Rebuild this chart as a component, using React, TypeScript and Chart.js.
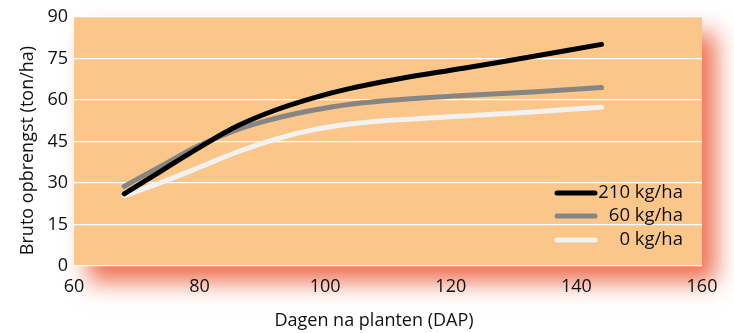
import React, { useEffect, useRef } from "react";
import { Chart, registerables } from "chart.js";

Chart.register(...registerables);

// Days after planting
const days = [68, 74, 80, 86, 92, 98, 104, 112, 122, 133, 144];
// Gross yield (ton/ha) per nitrogen level
const yield210 = [26.1, 34.5, 42.9, 50.6, 56.3, 60.7, 64.2, 67.8, 71.5, 75.7, 80.1];
const yield60 = [28.8, 36.3, 43.6, 49.3, 53.3, 56.3, 58.5, 60.2, 61.6, 62.9, 64.5];
const yield0 = [25.4, 30.3, 35.7, 41.2, 45.8, 49.2, 51.3, 52.9, 54.2, 55.7, 57.4];
const seriesLabels = ["210 kg/ha", "60 kg/ha", "0 kg/ha"];
const seriesColors = ["#000000", "#858585", "#f2f2f2"];
const xTitle = "Dagen na planten (DAP)";
const yTitle = "Bruto opbrengst (ton/ha)";

const FONT = "'Open Sans', sans-serif";

// Peach plot panel with a salmon drop shadow behind it
const panelPlugin = {
  id: "panel",
  beforeDraw(chart: any) {
    const { ctx, chartArea: a } = chart;
    ctx.save();
    ctx.shadowColor = "rgba(238, 105, 75, 0.95)";
    ctx.shadowBlur = 22;
    ctx.shadowOffsetX = 14;
    ctx.shadowOffsetY = 16;
    ctx.fillStyle = "#fbc68a";
    ctx.fillRect(a.left, a.top, a.right - a.left, a.bottom - a.top);
    ctx.restore();
    ctx.fillStyle = "#fbc68a";
    ctx.fillRect(a.left, a.top, a.right - a.left, a.bottom - a.top);
  },
};

// Axis titles, placed relative to the plot area
const titlesPlugin = {
  id: "axisTitles",
  afterDraw(chart: any) {
    const { ctx, chartArea: a } = chart;
    ctx.save();
    ctx.fillStyle = "#111";
    ctx.textAlign = "center";
    ctx.textBaseline = "middle";
    ctx.font = `18px ${FONT}`;
    ctx.fillText(xTitle, (a.left + a.right) / 2 - 14, a.bottom + 55);
    ctx.translate(a.left - 46, (a.top + a.bottom) / 2 + 9);
    ctx.rotate(-Math.PI / 2);
    ctx.fillText(yTitle, 0, 0);
    ctx.restore();
  },
};

// Legend inside the panel: line swatch, then right-aligned label
const legendPlugin = {
  id: "insideLegend",
  afterDraw(chart: any) {
    const { ctx, chartArea: a } = chart;
    const rowY = [a.bottom - 73, a.bottom - 50, a.bottom - 26];
    const swLeft = a.right - 145;
    const swRight = a.right - 107;
    const textRight = a.right - 19;
    ctx.save();
    ctx.font = `18.5px ${FONT}`;
    ctx.textAlign = "right";
    ctx.textBaseline = "middle";
    chart.data.datasets.forEach((ds: any, i: number) => {
      const y = rowY[i];
      ctx.strokeStyle = ds.borderColor;
      ctx.lineWidth = 5;
      ctx.lineCap = "round";
      ctx.beginPath();
      ctx.moveTo(swLeft, y);
      ctx.lineTo(swRight, y);
      ctx.stroke();
      ctx.fillStyle = "#111";
      ctx.fillText(ds.label, textRight, y);
    });
    ctx.restore();
  },
};

export default function App() {
  const ref = useRef<HTMLCanvasElement>(null);

  useEffect(() => {
    const mk = (vals: number[]) => days.map((d, i) => ({ x: d, y: vals[i] }));
    const chart = new Chart(ref.current!, {
      type: "line",
      data: {
        datasets: [yield210, yield60, yield0].map((vals, i) => ({
          label: seriesLabels[i],
          data: mk(vals),
          borderColor: seriesColors[i],
          backgroundColor: seriesColors[i],
          borderWidth: 5,
          borderCapStyle: "round",
          pointRadius: 0,
          tension: 0.4,
          fill: false,
        })),
      },
      options: {
        animation: false,
        responsive: false,
        maintainAspectRatio: false,
        layout: { padding: { top: 17, right: 32, bottom: 0, left: 8 } },
        plugins: { legend: { display: false }, tooltip: { enabled: false } },
        scales: {
          x: {
            type: "linear",
            min: 60,
            max: 160,
            afterFit: (s: any) => { s.height = 67; },
            ticks: { stepSize: 20, color: "#111", font: { family: FONT, size: 18 }, padding: 10 },
            grid: { display: false, drawTicks: false },
            border: { display: false },
          },
          y: {
            min: 0,
            max: 90,
            afterFit: (s: any) => { s.width = 66; },
            ticks: { stepSize: 15, color: "#111", font: { family: FONT, size: 18 }, padding: 6 },
            grid: { color: "#ffffff", lineWidth: 1.3, drawTicks: false },
            border: { display: false },
          },
        },
      },
      plugins: [panelPlugin, titlesPlugin, legendPlugin],
    } as any);
    return () => chart.destroy();
  }, []);

  return (
    <div style={{ position: "fixed", left: 0, top: 0, width: 734, height: 333, background: "#fff" }}>
      <canvas ref={ref} width={734} height={333} style={{ display: "block", width: 734, height: 333 }} />
    </div>
  );
}
